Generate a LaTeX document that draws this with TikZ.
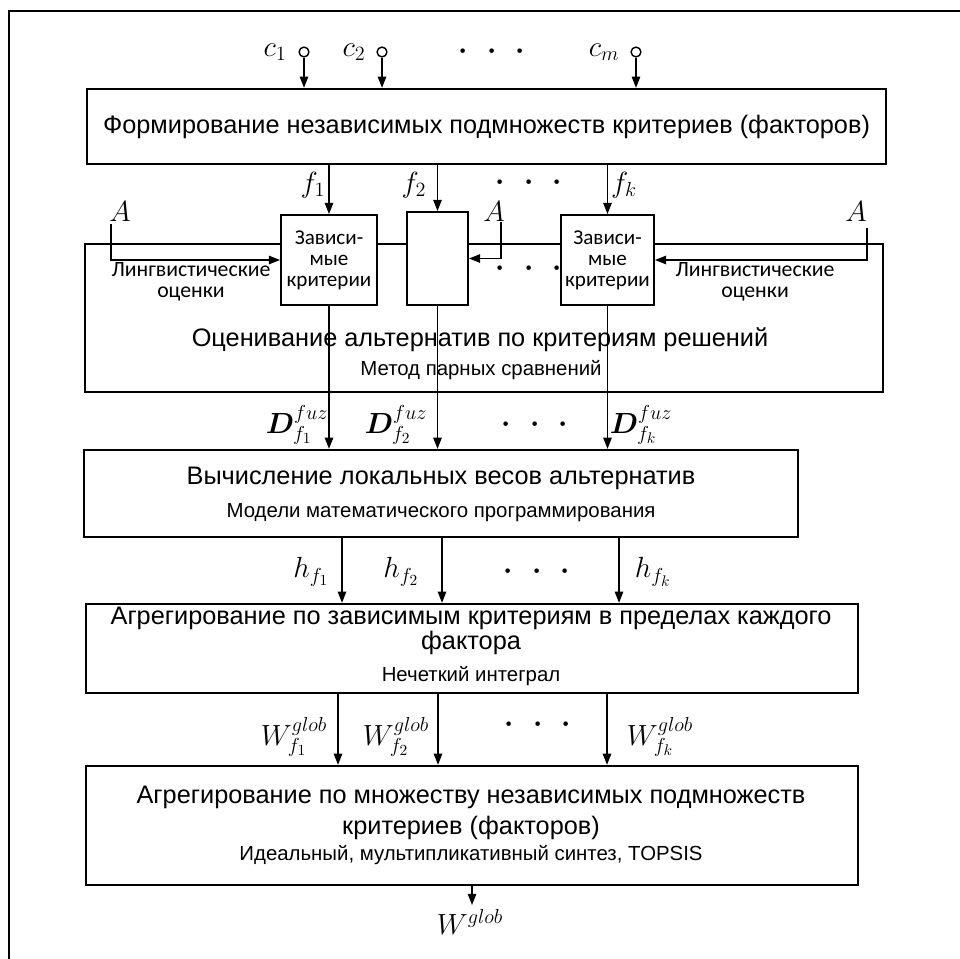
\documentclass[tikz,border=0pt]{standalone}
\usepackage[no-math]{fontspec}
\setmainfont{Liberation Sans}
\newfontfamily\calfont{Carlito}
\usepackage{bm}
\usetikzlibrary{arrows.meta}

\newcommand{\threedots}{$\bm{\cdot}\hspace{9pt}\bm{\cdot}\hspace{9pt}\bm{\cdot}$}

\begin{document}
\begin{tikzpicture}[
  x=.025cm,
  y=-.025cm,
  font=\fontsize{18}{21}\selectfont,
  box/.style={draw,line width=1.6pt,fill=white,inner sep=0pt},
  depbox/.style={box,line width=1.3pt,font=\calfont\fontsize{15}{15}\selectfont,align=center},
  subtext/.style={font=\fontsize{14.5}{17}\selectfont},
  note/.style={font=\calfont\fontsize{15.5}{15}\selectfont,align=center},
  lbl/.style={font=\fontsize{21}{25}\selectfont,inner sep=1pt},
  arr/.style={line width=1.1pt,-{Triangle[length=8pt,width=6pt]}},
  inp/.style={circle,draw,line width=1pt,inner sep=0pt,minimum size=7pt}
]
\useasboundingbox (0,0) rectangle (960,959);
\draw[line width=1.4pt] (9,990) -- (9,11) -- (990,11);

% main blocks
\node[box,minimum width=19.975cm,minimum height=1.875cm] (form) at (486.5,126.5)
  {Формирование независимых подмножеств критериев (факторов)};
\node[box,minimum width=19.95cm,minimum height=3.7cm] (est) at (484,318) {};
\node[box,minimum width=17.85cm,minimum height=2.175cm] (calc) at (441,493.5) {};
\node[box,minimum width=19.3cm,minimum height=2.225cm] (aggr) at (472,648.5) {};
\node[box,minimum width=19.3cm,minimum height=2.975cm] (synth) at (472,825.5) {};

\node (estt) at (480,340) {Оценивание альтернатив по критериям решений};
\node[subtext] (ests) at (481,370) {Метод парных сравнений};
\node (calct) at (441,478) {Вычисление локальных весов альтернатив};
\node[subtext] (calcs) at (441,513) {Модели математического программирования};
\node (aggrt) at (471,618) {Агрегирование по зависимым критериям в пределах каждого};
\node (aggrt2) at (471,643) {фактора};
\node[subtext] (aggrs) at (471,676) {Нечеткий интеграл};
\node (syntht) at (471,797) {Агрегирование по множеству независимых подмножеств};
\node (syntht2) at (471,828) {критериев (факторов)};
\node[subtext] (synths) at (471,855) {Идеальный, мультипликативный синтез, TOPSIS};

% dependent criteria
\node[depbox,minimum width=2.4cm,minimum height=2.25cm] (dep1) at (329,260)
  {Зависи-\\мые\\критерии};
\node[depbox,minimum width=1.525cm,minimum height=2.325cm] (dep2) at (437.5,258.5) {};
\node[depbox,minimum width=2.325cm,minimum height=2.25cm] (depk) at (607.5,260)
  {Зависи-\\мые\\критерии};
\node[note] (ling1) at (191,282) {Лингвистические\\оценки};
\node[note] (ling2) at (755,282) {Лингвистические\\оценки};
\node[lbl] (ddots) at (529,269) {\threedots};

% inputs
\node[inp] (c1) at (304,52) {};
\node[inp] (c2) at (382,52) {};
\node[inp] (cm) at (636,52) {};
\node[lbl] (lc1) at (275,52) {$c_1$};
\node[lbl] (lc2) at (354,52) {$c_2$};
\node[lbl] (lcm) at (604,52) {$c_m$};
\node[lbl] (cdots) at (492,52) {\threedots};
\foreach \c in {c1,c2,cm}
  \draw[arr] (\c) -- (\c |- form.north);

% factors
\node[lbl] (lf1) at (313,185) {$f_1$};
\node[lbl] (lf2) at (414,185) {$f_2$};
\node[lbl] (lfk) at (624,185) {$f_k$};
\node[lbl] (fdots) at (529,183) {\threedots};
\foreach \d in {dep1,dep2,depk}
  \draw[arr] (\d |- form.south) -- (\d.north);

% alternatives
\node[lbl] (lA1) at (120,212) {$A$};
\node[lbl] (lA2) at (494,212) {$A$};
\node[lbl] (lA3) at (856,212) {$A$};
\coordinate (a1) at (111,224);
\coordinate (a2) at (501,222);
\coordinate (a3) at (867,228);
\draw[arr] (a1) |- (dep1.west);
\draw[arr] (a2) |- (dep2.east);
\draw[arr] (a3) |- (depk.east);

% fuzzy estimates
\node[lbl] (lD1) at (297,425) {$\bm{D}^{fuz}_{f_1}$};
\node[lbl] (lD2) at (396,425) {$\bm{D}^{fuz}_{f_2}$};
\node[lbl] (lDk) at (641,425) {$\bm{D}^{fuz}_{f_k}$};
\node[lbl] (Ddots) at (535,425) {\threedots};
\foreach \d in {dep1,dep2,depk}
  \draw[arr] (\d.south) -- (\d |- calc.north);

% local weights
\coordinate (h1) at (342,570);
\coordinate (h2) at (442,570);
\coordinate (hk) at (619,570);
\node[lbl] (lh1) at (311,572) {$h_{f_1}$};
\node[lbl] (lh2) at (401,572) {$h_{f_2}$};
\node[lbl] (lhk) at (653,572) {$h_{f_k}$};
\node[lbl] (hdots) at (537,572) {\threedots};
\foreach \h in {h1,h2,hk}
  \draw[arr] (\h |- calc.south) -- (\h |- aggr.north);

% global weights
\coordinate (w1) at (338,730);
\coordinate (w2) at (438,730);
\coordinate (wk) at (607,730);
\node[lbl] (lW1) at (294,737) {$W^{glob}_{f_1}$};
\node[lbl] (lW2) at (396,737) {$W^{glob}_{f_2}$};
\node[lbl] (lWk) at (660,737) {$W^{glob}_{f_k}$};
\node[lbl] (Wdots) at (538,725) {\threedots};
\foreach \w in {w1,w2,wk}
  \draw[arr] (\w |- aggr.south) -- (\w |- synth.north);

\coordinate (wout) at (472,905);
\draw[arr] (wout |- synth.south) -- (wout);
\node[lbl,anchor=north] (lWout) at (470,908) {$W^{glob}$};
\end{tikzpicture}
\end{document}
